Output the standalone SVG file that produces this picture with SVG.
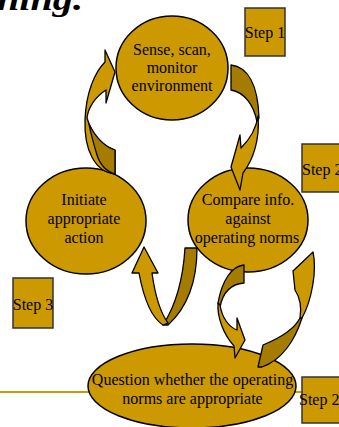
<svg xmlns="http://www.w3.org/2000/svg" width="339" height="427" viewBox="0 0 339 427">
<style>
.node{fill:#CC9900;stroke:#000;stroke-width:1.5}
.box{fill:#CC9900;stroke:#333;stroke-width:1.5}
.t{font-family:"Liberation Serif","Times New Roman",serif;font-size:16px;fill:#000;text-anchor:middle}
.ts{font-family:"Liberation Serif","Times New Roman",serif;font-size:16px;fill:#000}
.title{font-family:"Liberation Serif","Times New Roman",serif;font-size:32px;font-weight:bold;font-style:italic;fill:#000}
.front{fill:#CC9900;stroke:#000;stroke-width:1.3;stroke-linejoin:round}
.back{fill:#A67C00;stroke:#000;stroke-width:1.3;stroke-linejoin:round}
</style>
<rect width="339" height="427" fill="#fff"/>
<text class="title" x="-3" y="10" textLength="86" lengthAdjust="spacingAndGlyphs">ning.</text>
<line x1="0" y1="392" x2="305" y2="392" stroke="#CC9900" stroke-width="2"/>

<g id="n1">
<ellipse class="node" cx="172" cy="68" rx="56" ry="52"/>
<text class="t" x="172" y="55">Sense, scan,</text>
<text class="t" x="172" y="73">monitor</text>
<text class="t" x="172" y="91">environment</text>
</g>
<g id="n2">
<ellipse class="node" cx="86" cy="221" rx="60" ry="53"/>
<text class="t" x="84" y="205">Initiate</text>
<text class="t" x="84" y="224">appropriate</text>
<text class="t" x="84" y="243">action</text>
</g>
<g id="n3">
<ellipse class="node" cx="248" cy="220" rx="60" ry="52"/>
<text class="t" x="248" y="205">Compare info.</text>
<text class="t" x="248" y="224">against</text>
<text class="t" x="247" y="243">operating norms</text>
</g>
<g id="n4">
<ellipse class="node" cx="192" cy="386" rx="104" ry="42"/>
<text class="t" x="192.5" y="385">Question whether the operating</text>
<text class="t" x="192.5" y="404">norms are appropriate</text>
</g>

<g id="step1">
<rect class="box" x="245" y="8" width="40" height="48"/>
<text class="t" x="265" y="38">Step 1</text>
</g>
<g id="step2a">
<rect class="box" x="302" y="144" width="42" height="48"/>
<text class="ts" x="302" y="175">Step 2</text>
</g>
<g id="step3">
<rect class="box" x="13" y="278" width="40" height="50"/>
<text class="t" x="33" y="310">Step 3</text>
</g>
<g id="step2b">
<rect class="box" x="302" y="377" width="42" height="46"/>
<text class="ts" x="299" y="405">Step 2</text>
</g>

<g id="connectors">
<!-- A: n2 -> n1 -->
<path class="front" d="M105,62 L105,50 L115,72 L106,103 L106,90 C95,97 88,108 87,118 C92,135 102,146 115,150 L115,174 C95,172 84,150 85,120 C86,92 95,72 105,62 Z"/>
<path class="back" d="M89,124 C97,140 106,147 115,150 L115,174 C107,172 100,165 97,155 C94,145 91,135 89,124 Z"/>
<!-- B: n1 -> n3 -->
<path class="back" d="M231,65 C248,67 258,85 259,118 L257,122 C254,105 244,92 231,90 Z"/>
<path class="front" d="M258,116 C260,140 253,160 243,173 L240,190 L231,167 L240,135 L241,148 C249,140 256,130 258,116 Z"/>
<!-- C: n3 -> n2 (U arrow) -->
<path class="back" d="M185,248 L197,248 C197,275 190,305 168,325 L163,325 C176,305 183,280 185,248 Z"/>
<path class="front" d="M139,273 C144,300 152,318 163,325 L168,323 C160,312 155,295 152,273 L158,273 L144,247 L132,273 Z"/>
<!-- D: n3 -> n4 -->
<path class="back" d="M244,265 C232,266 222,280 218,303 L220,307 C223,292 231,284 244,283 Z"/>
<path class="front" d="M218,303 C217,318 224,335 234,346 L235,358 L245,340 L237,318 L237,330 C229,327 222,318 220,305 Z"/>
<!-- E: n4 -> n3 -->
<path class="back" d="M302,318 C295,340 282,360 262,367 L258,367 L263,345 C280,338 295,328 300,318 Z"/>
<path class="front" d="M313,252 C317,270 312,300 302,318 L300,318 C302,305 299,296 295,290 L293,271 Z"/>
</g>
</svg>
